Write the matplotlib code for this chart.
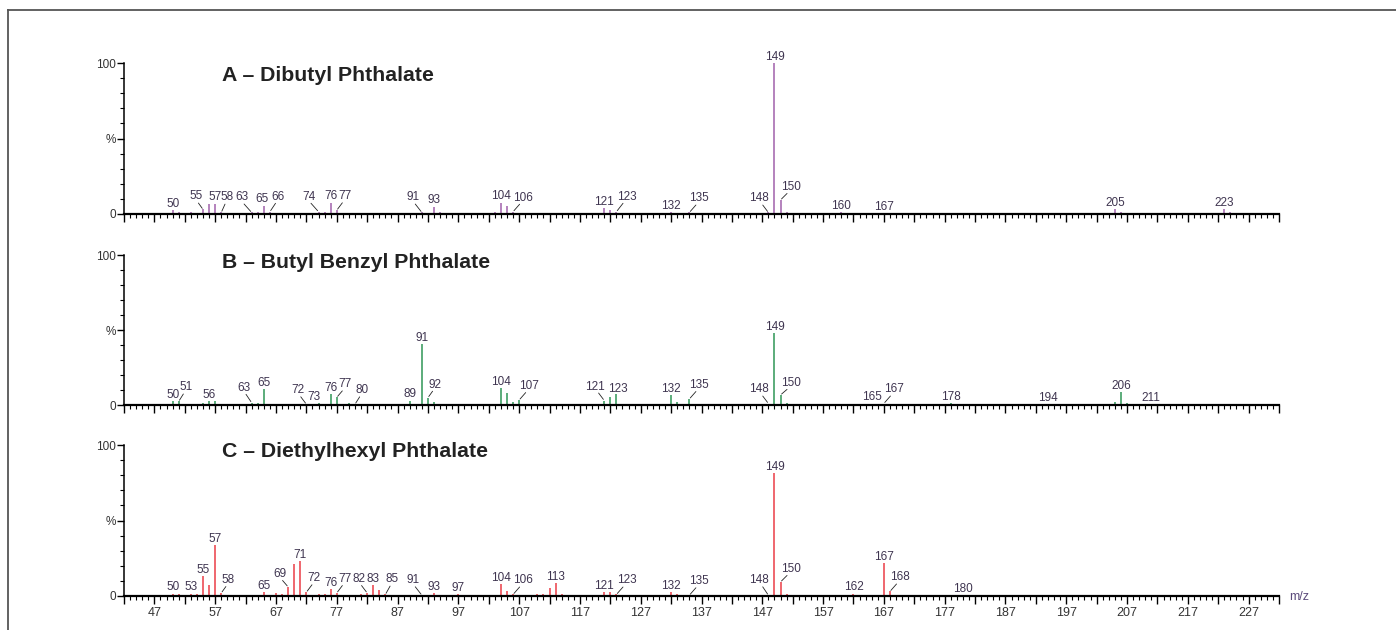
import matplotlib
matplotlib.use("Agg")
import matplotlib.pyplot as plt
from matplotlib.lines import Line2D
from matplotlib.ticker import MultipleLocator, FixedLocator, FuncFormatter

plt.rcParams['font.family'] = ['Liberation Sans', 'DejaVu Sans']

# Panel A - Dibutyl Phthalate
a_mz = [50, 51, 53, 54, 55, 56, 57, 58, 63, 64, 65, 66, 72, 73, 74, 75, 76, 77, 78, 79,
        91, 93, 94, 103, 104, 105, 106, 121, 122, 123, 132, 133, 135, 136, 147, 148, 149,
        150, 151, 160, 167, 205, 206, 223, 224]
a_int = [2.7, 1, 1, 0.5, 3, 6.6, 6.6, 1, 1, 1, 5.3, 1.5, 0.5, 0.8, 1.5, 1, 7, 2.5, 0.8, 0.5,
         1, 4.4, 1, 1, 7, 5, 1.5, 3.7, 2.6, 1.5, 1.5, 0.5, 1, 0.5, 0.5, 1, 100,
         9.3, 1, 1, 0.5, 3, 1, 3, 1]
a_labels = [50, 55, 57, 58, 63, 65, 66, 74, 76, 77, 91, 93, 104, 106, 121, 123, 132, 135,
            148, 149, 150, 160, 167, 205, 223]

# Panel B - Butyl Benzyl Phthalate
b_mz = [49, 50, 51, 52, 53, 55, 56, 57, 62, 63, 64, 65, 66, 72, 73, 74, 75, 76, 77, 78, 79, 80,
        89, 90, 91, 92, 93, 94, 104, 105, 106, 107, 108, 118, 119, 121, 122, 123, 124,
        131, 132, 133, 134, 135, 136, 148, 149, 150, 151, 152, 164, 165, 166, 167,
        177, 178, 179, 193, 194, 205, 206, 207, 208, 211]
b_int = [0.5, 2.9, 2.4, 1, 1, 1.5, 2.9, 2.4, 0.5, 1.5, 1.5, 10.4, 1, 0.5, 1, 1.5, 1, 7.3, 5.1, 1, 1.5, 0.5,
         2.4, 1, 40.7, 4.9, 2, 0.5, 11.1, 7.8, 2, 3.3, 1, 0.5, 1, 3, 5.6, 7.3, 1,
         0.5, 6.7, 2, 1, 4, 1, 1, 47.8, 6.7, 1.2, 0.5, 0.5, 1, 0.5, 1,
         1, 1.5, 0.5, 0.5, 0.5, 2, 8.4, 1.5, 0.5, 0.5]
b_labels = [50, 51, 56, 63, 65, 72, 73, 76, 77, 80, 89, 91, 92, 104, 107, 121, 123, 132, 135,
            148, 149, 150, 165, 167, 178, 194, 206, 211]

# Panel C - Diethylhexyl Phthalate
c_mz = [50, 51, 52, 53, 54, 55, 56, 57, 58, 59, 65, 66, 67, 68, 69, 70, 71, 72, 74, 75, 76, 77,
        78, 79, 81, 82, 83, 84, 85, 91, 93, 94, 95, 97, 98, 104, 105, 106, 110, 111, 112, 113,
        114, 121, 122, 123, 132, 133, 135, 148, 149, 150, 151, 162, 167, 168, 169, 180]
c_int = [1, 1.5, 0.5, 1, 1.5, 13.3, 7.3, 33.6, 2, 0.5, 2.5, 0.5, 2, 1.5, 6, 21.5, 23.2, 2.5, 1, 1.5, 4.4, 2,
         0.5, 0.5, 1.5, 2, 7, 3.8, 1, 0.5, 2, 0.5, 0.5, 1, 0.3, 7.7, 3.1, 1, 1, 1, 5.1, 8.4,
         1.5, 2.5, 2.5, 1, 2.5, 1.2, 0.5, 0.5, 81.2, 9.3, 1.2, 1, 21.9, 3, 0.7, 0.5]
c_labels = [50, 53, 55, 57, 58, 65, 69, 71, 72, 76, 77, 82, 83, 85, 91, 93, 97, 104, 106, 113,
            121, 123, 132, 135, 148, 149, 150, 162, 167, 168, 180]

titles = ['A – Dibutyl Phthalate', 'B – Butyl Benzyl Phthalate', 'C – Diethylhexyl Phthalate']

# label placement (pixel offsets from peak top)
a_off = {50: (0, 3), 55: (-7, 10), 57: (0, 4), 58: (6, 12), 63: (-10, 12), 65: (-2, 4), 66: (8, 12),
         74: (-10, 12), 76: (0, 4), 77: (8, 11), 91: (-9, 12), 93: (0, 4), 104: (0, 4), 106: (10, 11),
         121: (0, 3), 123: (10, 12), 132: (0, 3), 135: (10, 11), 148: (-9, 11), 149: (0, 3),
         150: (10, 10), 160: (0, 3), 167: (0, 3), 205: (0, 3), 223: (0, 3)}
b_off = {50: (0, 3), 51: (7, 11), 56: (0, 3), 63: (-8, 12), 65: (0, 3), 72: (-8, 11), 73: (1, 4),
         76: (0, 3), 77: (8, 10), 80: (7, 11), 89: (0, 4), 91: (0, 3), 92: (7, 10), 104: (0, 3),
         107: (10, 11), 121: (-9, 11), 123: (1, 2), 132: (0, 3), 135: (10, 11), 148: (-9, 11),
         149: (0, 3), 150: (10, 9), 165: (0, 3), 167: (10, 11), 178: (0, 3), 194: (0, 3),
         206: (0, 3), 211: (0, 3)}
c_off = {50: (0, 4), 53: (0, 4), 55: (0, 3), 57: (0, 3), 58: (7, 10), 65: (0, 3), 69: (-8, 10),
         71: (0, 3), 72: (8, 11), 76: (0, 3), 77: (8, 11), 82: (-8, 11), 83: (0, 3), 85: (7, 12),
         91: (-9, 12), 93: (0, 3), 97: (0, 3), 104: (0, 3), 106: (10, 11), 113: (0, 3), 121: (0, 3),
         123: (10, 11), 132: (0, 3), 135: (10, 11), 148: (-9, 12), 149: (0, 3), 150: (10, 10),
         162: (0, 4), 167: (0, 3), 168: (10, 11), 180: (0, 3)}

W, H = 1396, 630
fig = plt.figure(figsize=(W / 100, H / 100), dpi=100)


def px_axes(left, top, right, bottom):
    return fig.add_axes([left / W, 1 - bottom / H, (right - left) / W, (bottom - top) / H])


def draw_panel(ax, mz, inten, labels, offsets, color, title, title_y, show_x):
    ax.vlines(mz, 0, inten, color=color, lw=1.2)
    lookup = dict(zip(mz, inten))
    for m in labels:
        dx, dy = offsets[m]
        arrow = None
        if abs(dx) >= 5:
            rel = (0.35, 0) if dx > 0 else (0.65, 0)
            arrow = dict(arrowstyle='-', color='#222222', lw=0.6, shrinkA=0.5, shrinkB=1,
                         relpos=rel, patchA=None)
        ax.annotate(str(m), xy=(m, lookup[m]), xytext=(dx, dy), textcoords='offset pixels',
                    ha='center', va='baseline', fontsize=8.5, color='#3f3550',
                    arrowprops=arrow, annotation_clip=False)
    ax.set_xlim(42, 232)
    ax.set_ylim(0, 100)
    for s in ['top', 'right']:
        ax.spines[s].set_visible(False)
    ax.spines['bottom'].set_linewidth(1.6)
    ax.spines['left'].set_linewidth(1.1)
    ax.xaxis.set_major_locator(MultipleLocator(5, offset=2))
    ax.xaxis.set_minor_locator(MultipleLocator(1))
    ax.yaxis.set_major_locator(FixedLocator([0, 50, 100]))
    ax.yaxis.set_minor_locator(MultipleLocator(10))
    ax.set_yticklabels(['0', '%', '100'])
    if show_x:
        ax.xaxis.set_major_formatter(FuncFormatter(
            lambda v, p: f'{v:.0f}' if round(v - 47) % 10 == 0 else ''))
    else:
        ax.xaxis.set_major_formatter(FuncFormatter(lambda v, p: ''))
    ax.tick_params(axis='x', which='major', length=6, width=1.0, pad=2, labelsize=9,
                   labelcolor='#333333')
    ax.tick_params(axis='x', which='minor', length=3, width=0.8)
    ax.tick_params(axis='y', which='major', length=5, width=1.0, pad=1, labelsize=8.5,
                   labelcolor='#333333')
    ax.tick_params(axis='y', which='minor', length=3, width=0.8)
    ax.text(0.085, title_y, title, transform=ax.transAxes, fontsize=15.3, fontweight='bold',
            color='#222222', ha='left', va='center')


ax_a = px_axes(124, 63, 1279, 214)
ax_b = px_axes(124, 255, 1279, 405)
ax_c = px_axes(124, 445, 1279, 596)

draw_panel(ax_a, a_mz, a_int, a_labels, a_off, '#a86db2', titles[0], 0.92, False)
draw_panel(ax_b, b_mz, b_int, b_labels, b_off, '#3f9e63', titles[1], 0.947, False)
draw_panel(ax_c, c_mz, c_int, c_labels, c_off, '#ec4d55', titles[2], 0.96, True)

fig.text(1289 / W, 1 - 597 / H, 'm/z', ha='left', va='center', fontsize=9, color='#5b4a7b')

# outer frame (top and left edges only)
fig.add_artist(Line2D([8 / W, 8 / W], [0, 1 - 10 / H], transform=fig.transFigure,
                      color='#555555', lw=1.3))
fig.add_artist(Line2D([8 / W, 1], [1 - 10 / H, 1 - 10 / H], transform=fig.transFigure,
                      color='#555555', lw=1.3))

fig.savefig('out.png', dpi=100)
